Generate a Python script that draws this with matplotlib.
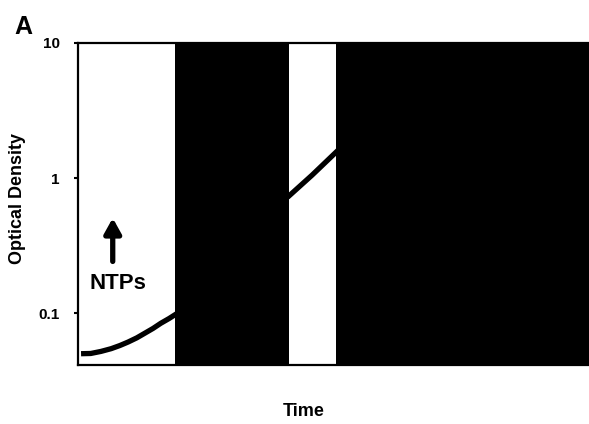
import matplotlib
matplotlib.use('Agg')
import matplotlib.pyplot as plt
import numpy as np

plt.rcParams['font.family'] = ['Liberation Sans', 'DejaVu Sans']
plt.rcParams['font.weight'] = 'bold'

# ---- Data (time in arbitrary units, 0-100) ----
t_early = [0.6, 2.5, 4.5, 6.5, 8.2, 9.8, 11.5, 13.1, 14.7, 16.2, 17.8, 19.5]
od_early = [0.050, 0.0502, 0.052, 0.0545, 0.0575, 0.0610, 0.0655, 0.071, 0.077, 0.084, 0.091, 0.100]

t_mid = [41.0, 45.8, 51.0]
od_mid = [0.72, 1.05, 1.62]

# dark (blacked-out) time windows
dark_spans = [(19.0, 41.3), (50.5, 100.0)]

y_ticks = [0.1, 1, 10]
y_ticklabels = ['0.1', '1', '10']

fig = plt.figure(figsize=(5.89, 4.24), dpi=100)
ax = fig.add_axes([0.1324, 0.139, 0.8676, 0.7596])

ax.plot(t_early, od_early, color='black', linewidth=3.8, solid_capstyle='butt', zorder=2)
ax.plot(t_mid, od_mid, color='black', linewidth=3.8, solid_capstyle='butt', zorder=2)

for a, b in dark_spans:
    ax.axvspan(a, b, color='black', zorder=3, linewidth=0)

ax.set_yscale('log')
ax.set_ylim(0.0412, 10)
ax.set_xlim(0, 100)
ax.set_yticks(y_ticks)
ax.set_yticklabels(y_ticklabels)
ax.yaxis.set_minor_locator(matplotlib.ticker.NullLocator())
ax.set_xticks([])
ax.tick_params(axis='y', direction='out', length=3, width=1.5, labelsize=11, pad=10)
for lab in ax.get_yticklabels():
    lab.set_fontweight('bold')

for s in ax.spines.values():
    s.set_linewidth(1.6)
ax.spines['right'].set_visible(False)

# annotation: NTPs addition
ax.annotate('', xy=(6.8, 0.53), xytext=(6.8, 0.23),
            xycoords='data', textcoords='data',
            arrowprops=dict(arrowstyle='-|>,head_width=0.5,head_length=0.9',
                            color='black', lw=3.8))
ax.text(7.8, 0.165, 'NTPs', ha='center', va='center', fontsize=16, fontweight='bold')

fig.text(18 / 589, 1 - 198 / 424, 'Optical Density', rotation=90, ha='center', va='center',
         fontsize=13, fontweight='bold')
fig.text(304 / 589, 1 - 412 / 424, 'Time', ha='center', va='center',
         fontsize=13, fontweight='bold')
fig.text(23 / 589, 1 - 27 / 424, 'A', ha='center', va='center',
         fontsize=18, fontweight='bold')

plt.savefig('out.png', dpi=100)
plt.close()
